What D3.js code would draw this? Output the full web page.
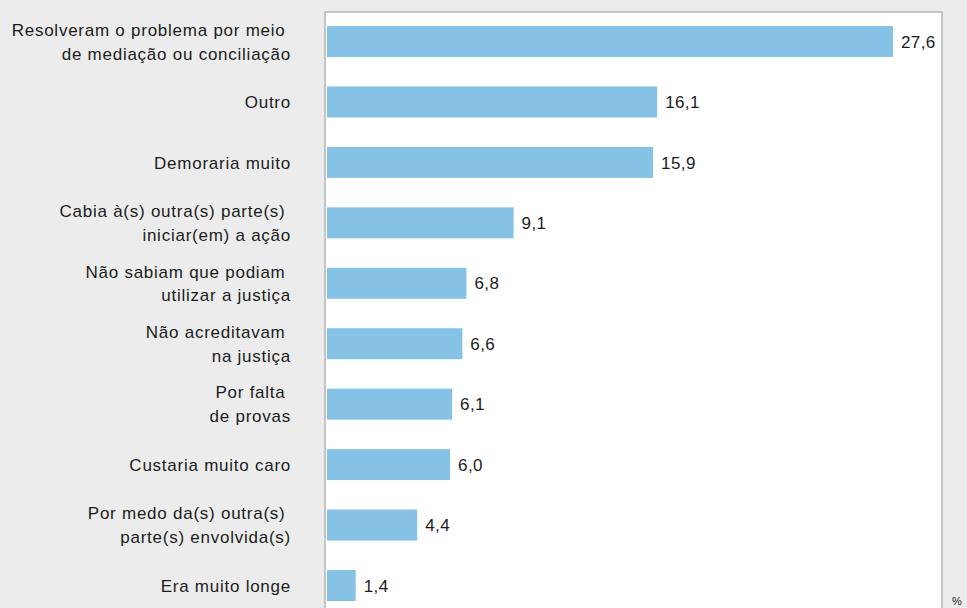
<!DOCTYPE html>
<html>
<head>
<meta charset="utf-8">
<script src="https://cdn.jsdelivr.net/npm/d3@7"></script>
<style>
  body { margin: 0; background: #ebeceb; }
  svg { display: block; }
  .lbl, .val { font-family: "Liberation Sans", Arial, sans-serif; font-size: 17px; fill: #1c1c1c; }
  .lbl { letter-spacing: 0.75px; }
  .val { letter-spacing: 0.4px; }
</style>
</head>
<body>
<div id="chart"></div>
<script>
// categories (split into lines as in the original) and values in %
var categories = [
  ["Resolveram o problema por meio ", "de mediação ou conciliação"],
  ["Outro"],
  ["Demoraria muito"],
  ["Cabia à(s) outra(s) parte(s) ", "iniciar(em) a ação"],
  ["Não sabiam que podiam ", "utilizar a justiça"],
  ["Não acreditavam ", "na justiça"],
  ["Por falta ", "de provas"],
  ["Custaria muito caro"],
  ["Por medo da(s) outra(s) ", "parte(s) envolvida(s)"],
  ["Era muito longe"]
];
var values = [27.6, 16.1, 15.9, 9.1, 6.8, 6.6, 6.1, 6.0, 4.4, 1.4];
var unitLabel = "%";

var svgWidth = 967;
var svgHeight = 608;

var svg = d3.select("#chart")
  .append("svg")
  .attr("width", svgWidth)
  .attr("height", svgHeight);

var rows = categories.map(function(c, i) { return { key: i, lines: c, value: values[i] }; });

// white plot panel
svg.append("rect")
  .attr("x", 325)
  .attr("y", 12)
  .attr("width", 617)
  .attr("height", 700)
  .attr("fill", "#fff")
  .attr("stroke", "#c4c4c4")
  .attr("stroke-width", 2);

var xScale = d3.scaleLinear()
  .domain([0, 27.6])
  .range([327, 893]);

var yScale = d3.scaleBand()
  .domain(rows.map(d => d.key))
  .range([11.3, 615.7])
  .paddingInner(0.487)
  .paddingOuter(0.2435);

svg.selectAll(".bar")
  .data(rows)
  .enter()
  .append("rect")
  .attr("class", "bar")
  .attr("x", xScale(0))
  .attr("y", d => yScale(d.key))
  .attr("width", d => xScale(d.value) - xScale(0))
  .attr("height", yScale.bandwidth())
  .attr("fill", "#86c2e6");

// value labels
svg.selectAll(".val")
  .data(rows)
  .enter()
  .append("text")
  .attr("class", "val")
  .attr("x", d => xScale(d.value) + 8)
  .attr("y", d => yScale(d.key) + yScale.bandwidth() / 2)
  .attr("dy", "0.36em")
  .text(d => d.value.toFixed(1).replace(".", ","));

// category labels
var lblGroup = svg.selectAll(".lbl")
  .data(rows)
  .enter()
  .append("text")
  .attr("class", "lbl")
  .attr("text-anchor", "end")
  .attr("xml:space", "preserve")
  .style("white-space", "pre")
  .attr("y", d => yScale(d.key) + yScale.bandwidth() / 2);

lblGroup.selectAll("tspan")
  .data(d => d.lines.map((t, i) => ({ t: t, i: i, n: d.lines.length })))
  .enter()
  .append("tspan")
  .attr("x", 291)
  .attr("dy", d => d.i === 0 ? (0.36 - (d.n - 1) * 0.7) + "em" : "1.4em")
  .text(d => d.t);

svg.append("text")
  .attr("x", 952)
  .attr("y", 605)
  .attr("font-family", "Liberation Sans, Arial, sans-serif")
  .attr("font-size", 11)
  .attr("fill", "#1c1c1c")
  .text(unitLabel);
</script>
</body>
</html>
